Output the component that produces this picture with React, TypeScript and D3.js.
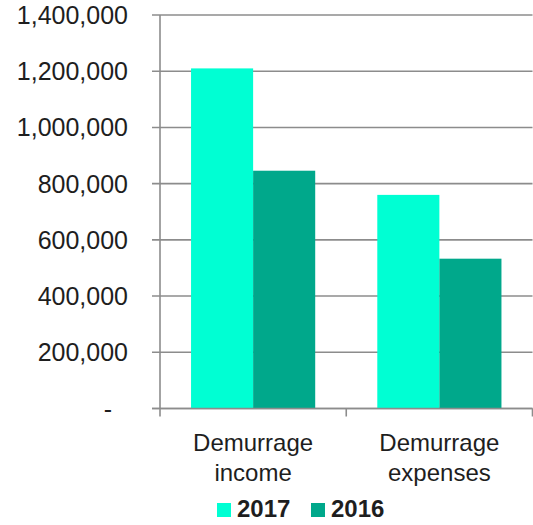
import React from "react";
import * as d3 from "d3";

// Chart data
const categories: string[][] = [["Demurrage", "income"], ["Demurrage", "expenses"]];
const seriesNames = ["2017", "2016"];
const values2017 = [1210000, 760000];
const values2016 = [846000, 533000];
const yTicks = [0, 200000, 400000, 600000, 800000, 1000000, 1200000, 1400000];
const yTickLabels = ["-", "200,000", "400,000", "600,000", "800,000", "1,000,000", "1,200,000", "1,400,000"];
const colors = ["#00FFD3", "#00A88B"];

const W = 533;
const H = 525;
const left = 160;
const right = 532.5;
const top = 15;
const bottom = 408.5;
const axisColor = "#8c8c8c";
const textColor = "#1e1e1e";
const font = "'Liberation Sans', Arial, Helvetica, sans-serif";

export default function App() {
  const keys = categories.map((c) => c.join(" "));
  const x = d3.scaleBand<string>().domain(keys).range([left, right]).paddingInner(0).paddingOuter(0);
  const xs = d3.scaleBand<string>().domain(seriesNames).range([0, x.bandwidth()]).paddingInner(0).paddingOuter(0.5);
  const y = d3.scaleLinear().domain([0, 1400000]).range([bottom, top]);
  const seriesValues = [values2017, values2016];

  return (
    <svg width={W} height={H} style={{ position: "absolute", left: 0, top: 0, background: "#fff" }}>
      {/* gridlines + y tick marks */}
      {yTicks.map((t, i) => (
        <g key={t}>
          <line x1={left - 8} x2={right} y1={y(t)} y2={y(t)} stroke={axisColor} strokeWidth={1.6} />
          <text
            x={128}
            dx={t === 0 ? -16 : 0}
            y={y(t)}
            dy="0.36em"
            textAnchor="end"
            fontFamily={font}
            fontSize={25}
            fill={textColor}
          >
            {yTickLabels[i]}
          </text>
        </g>
      ))}

      {/* bars */}
      {keys.map((k, ci) =>
        seriesNames.map((s, si) => {
          const v = seriesValues[si][ci];
          return (
            <rect
              key={k + s}
              x={(x(k) as number) + (xs(s) as number)}
              y={y(v)}
              width={xs.bandwidth()}
              height={y(0) - y(v)}
              fill={colors[si]}
            />
          );
        })
      )}

      {/* axes */}
      <line x1={left} x2={left} y1={top} y2={bottom} stroke={axisColor} strokeWidth={1.6} />
      <line x1={left - 8} x2={right} y1={bottom} y2={bottom} stroke={axisColor} strokeWidth={1.6} />
      {[...keys.map((k) => x(k) as number), right].map((px, i) => (
        <line key={i} x1={px} x2={px} y1={bottom} y2={bottom + 8} stroke={axisColor} strokeWidth={1.6} />
      ))}

      {/* category labels */}
      {keys.map((k, ci) => (
        <text
          key={k}
          x={(x(k) as number) + x.bandwidth() / 2}
          y={451}
          textAnchor="middle"
          fontFamily={font}
          fontSize={24}
          fill={textColor}
        >
          {categories[ci].map((line, li) => (
            <tspan key={li} x={(x(k) as number) + x.bandwidth() / 2} dy={li === 0 ? 0 : 29.5}>
              {line}
            </tspan>
          ))}
        </text>
      ))}

      {/* legend */}
      {seriesNames.map((s, si) => {
        const lx = si === 0 ? 217 : 311;
        return (
          <g key={s}>
            <rect x={lx} y={503} width={14} height={14} fill={colors[si]} />
            <text x={lx + 20} y={517} fontFamily={font} fontSize={24} fontWeight="bold" fill={textColor}>
              {s}
            </text>
          </g>
        );
      })}
    </svg>
  );
}
